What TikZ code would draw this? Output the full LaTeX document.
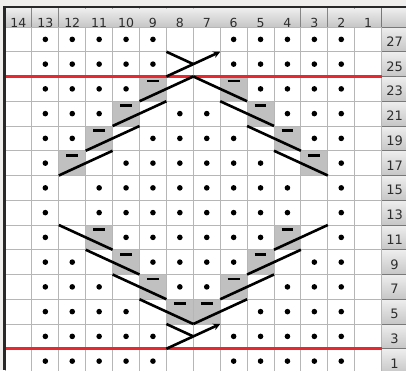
\documentclass[tikz,border=0pt]{standalone}
\usepackage{fontspec}
\setmainfont{DejaVu Sans}
\usetikzlibrary{arrows.meta}
\definecolor{bgpanel}{RGB}{239,238,236}
\definecolor{gridln}{RGB}{182,182,182}
\definecolor{purlgray}{RGB}{192,192,192}
\definecolor{redln}{RGB}{232,40,44}
\definecolor{hdrtop}{RGB}{238,238,238}
\definecolor{hdrbot}{RGB}{198,198,198}
\definecolor{hdrline}{RGB}{120,120,120}
\definecolor{framedark}{RGB}{40,40,40}
\definecolor{labeltext}{RGB}{45,45,45}
\begin{document}
\begin{tikzpicture}[x=1pt,y=-1pt,
  hdrtext/.style={anchor=base,inner sep=0pt,text=labeltext,font=\fontsize{12.5}{14}\selectfont},
  rowtext/.style={anchor=base,inner sep=0pt,text=labeltext,font=\fontsize{13}{15}\selectfont},
  gridrule/.style={draw=gridln,line width=0.9pt},
  cable/.style={draw=black,line width=2.6pt},
  purldash/.style={draw=black,line width=2.8pt},
  rowmark/.style={draw=redln,line width=3pt}]
\useasboundingbox (0,0) rectangle (406,370);
\fill[bgpanel] (0,0) rectangle (406,370);
\begin{scope}
\clip (0,0) rectangle (406,370);
% header cells
\begin{scope}
\clip (5,8) rectangle (406,27);
\foreach \c [count=\n from 0] in {14,13,...,1} {
  \pgfmathsetmacro\xl{5+26.9*\n}
  \pgfmathsetmacro\xr{5+26.9*(\n+1)}
  \shade[top color=hdrtop,bottom color=hdrbot] (\xl,8) rectangle (\xr,27);
  \draw[hdrline,line width=0.9pt] (\xr,8) -- (\xr,27);
  \node[hdrtext] (h\c) at ({(\xl+\xr)/2},27.8) {\c};
}
\shade[top color=hdrtop,bottom color=hdrbot] (381.6,8) rectangle (406,27);
\end{scope}
% right row-number column
\foreach \r [count=\n from 0] in {27,25,...,1} {
  \pgfmathsetmacro\yt{27+24.75*\n}
  \shade[top color=hdrtop,bottom color=hdrbot] (381.6,\yt) rectangle (406,\yt+24.75);
  \draw[hdrline,line width=1pt] (381.6,\yt) -- (406,\yt);
  \node[rowtext] (r\r) at (394.6,\yt+19.4) {\r};
}
\draw[hdrline,line width=1pt] (381.6,8) -- (381.6,370);
% chart grid
\begin{scope}[shift={(5pt,-27pt)},x=26.9pt,y=-24.75pt]
  \fill[white] (0,0) rectangle (14,14);
  \foreach \k/\j in {5/2,8/2,4/3,9/3,3/4,10/4,2/5,11/5,3/8,10/8,4/9,9/9,5/10,8/10,6/11,7/11}
    \fill[purlgray] (\k,\j) rectangle (\k+1,\j+1);
  \foreach \k in {0,...,14} \draw[gridrule] (\k,0) -- (\k,14);
  \foreach \j in {0,...,14} \draw[gridrule] (0,\j) -- (14,\j);
  % purl dots
  \foreach \j/\ks in {
    0/{1,2,3,4,5,8,9,10,11,12},
    1/{1,2,3,4,5,8,9,10,11,12},
    2/{1,2,3,4,9,10,11,12},
    3/{1,2,3,6,7,10,11,12},
    4/{1,2,5,6,7,8,11,12},
    5/{1,4,5,6,7,8,9,12},
    6/{1,3,4,5,6,7,8,9,10,12},
    7/{1,3,4,5,6,7,8,9,10,12},
    8/{1,4,5,6,7,8,9,12},
    9/{1,2,5,6,7,8,11,12},
    10/{1,2,3,6,7,10,11,12},
    11/{1,2,3,4,9,10,11,12},
    12/{1,2,3,4,5,8,9,10,11,12},
    13/{1,2,3,4,5,8,9,10,11,12}}
    \foreach \k in \ks \fill[black] (\k+0.5,\j+0.5) circle[radius=2.8pt];
  % dashes in purl cells
  \foreach \k/\j in {5/2,8/2,4/3,9/3,3/4,10/4,2/5,11/5,3/8,10/8,4/9,9/9,5/10,8/10,6/11,7/11}
    \draw[purldash] (\k+0.28,\j+0.18) -- (\k+0.72,\j+0.18);
  % red marker lines
  \draw[rowmark] (0,2) -- (14,2);
  \draw[rowmark] (0,13) -- (14,13);
  % upper diamond
  \draw[cable] (2,6) -- (4,5);
  \draw[cable] (3,5) -- (5,4);
  \draw[cable] (4,4) -- (6,3);
  \draw[cable] (5,3) -- (7,2);
  \draw[cable] (7,2) -- (9,3);
  \draw[cable] (8,3) -- (10,4);
  \draw[cable] (9,4) -- (11,5);
  \draw[cable] (10,5) -- (12,6);
  % crossings
  \draw[cable,-{Stealth[length=7pt,width=7pt]}] (6,2) -- (8,1);
  \draw[cable] (6,1) -- (7,1.5);
  \draw[cable,-{Stealth[length=7pt,width=7pt]}] (6,13) -- (8,12);
  \draw[cable] (6,12) -- (7,12.5);
  % lower diamond
  \draw[cable] (2,8) -- (4,9);
  \draw[cable] (3,9) -- (5,10);
  \draw[cable] (4,10) -- (6,11);
  \draw[cable] (5,11) -- (7,12);
  \draw[cable] (12,8) -- (10,9);
  \draw[cable] (11,9) -- (9,10);
  \draw[cable] (10,10) -- (8,11);
  \draw[cable] (9,11) -- (7,12);
\end{scope}
% frame
\draw[framedark,line width=2pt] (3.3,7) -- (406,7);
\draw[framedark,line width=2.6pt] (4.6,6) -- (4.6,370);
\end{scope}
\end{tikzpicture}
\end{document}
